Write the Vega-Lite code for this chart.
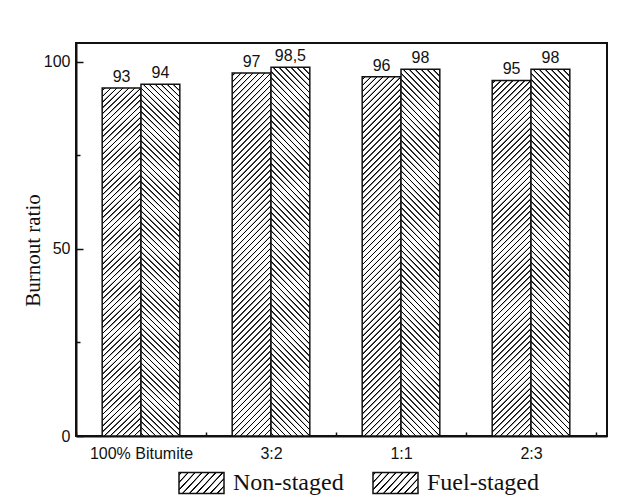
{
"$schema": "https://vega.github.io/schema/vega-lite/v6.json",
"width": 531,
"height": 393,
"autosize": "none",
"padding": {"left": 76, "top": 43, "right": 17, "bottom": 65},
"background": "white",
"params": [
{"name": "stopsB", "value": [
{"offset":0.005,"color":"#fff"},{"offset":0.0065,"color":"#000"},{"offset":0.0085,"color":"#000"},{"offset":0.01,"color":"#fff"},
{"offset":0.02,"color":"#fff"},{"offset":0.0215,"color":"#000"},{"offset":0.0235,"color":"#000"},{"offset":0.025,"color":"#fff"},
{"offset":0.035,"color":"#fff"},{"offset":0.0365,"color":"#000"},{"offset":0.0385,"color":"#000"},{"offset":0.04,"color":"#fff"},
{"offset":0.05,"color":"#fff"},{"offset":0.0515,"color":"#000"},{"offset":0.0535,"color":"#000"},{"offset":0.055,"color":"#fff"},
{"offset":0.065,"color":"#fff"},{"offset":0.0665,"color":"#000"},{"offset":0.0685,"color":"#000"},{"offset":0.07,"color":"#fff"},
{"offset":0.08,"color":"#fff"},{"offset":0.0815,"color":"#000"},{"offset":0.0835,"color":"#000"},{"offset":0.085,"color":"#fff"},
{"offset":0.095,"color":"#fff"},{"offset":0.0965,"color":"#000"},{"offset":0.0985,"color":"#000"},{"offset":0.1,"color":"#fff"},
{"offset":0.11,"color":"#fff"},{"offset":0.1115,"color":"#000"},{"offset":0.1135,"color":"#000"},{"offset":0.115,"color":"#fff"},
{"offset":0.125,"color":"#fff"},{"offset":0.1265,"color":"#000"},{"offset":0.1285,"color":"#000"},{"offset":0.13,"color":"#fff"},
{"offset":0.14,"color":"#fff"},{"offset":0.1415,"color":"#000"},{"offset":0.1435,"color":"#000"},{"offset":0.145,"color":"#fff"},
{"offset":0.155,"color":"#fff"},{"offset":0.1565,"color":"#000"},{"offset":0.1585,"color":"#000"},{"offset":0.16,"color":"#fff"},
{"offset":0.17,"color":"#fff"},{"offset":0.1715,"color":"#000"},{"offset":0.1735,"color":"#000"},{"offset":0.175,"color":"#fff"},
{"offset":0.185,"color":"#fff"},{"offset":0.1865,"color":"#000"},{"offset":0.1885,"color":"#000"},{"offset":0.19,"color":"#fff"},
{"offset":0.2,"color":"#fff"},{"offset":0.2015,"color":"#000"},{"offset":0.2035,"color":"#000"},{"offset":0.205,"color":"#fff"},
{"offset":0.215,"color":"#fff"},{"offset":0.2165,"color":"#000"},{"offset":0.2185,"color":"#000"},{"offset":0.22,"color":"#fff"},
{"offset":0.23,"color":"#fff"},{"offset":0.2315,"color":"#000"},{"offset":0.2335,"color":"#000"},{"offset":0.235,"color":"#fff"},
{"offset":0.245,"color":"#fff"},{"offset":0.2465,"color":"#000"},{"offset":0.2485,"color":"#000"},{"offset":0.25,"color":"#fff"},
{"offset":0.26,"color":"#fff"},{"offset":0.2615,"color":"#000"},{"offset":0.2635,"color":"#000"},{"offset":0.265,"color":"#fff"},
{"offset":0.275,"color":"#fff"},{"offset":0.2765,"color":"#000"},{"offset":0.2785,"color":"#000"},{"offset":0.28,"color":"#fff"},
{"offset":0.29,"color":"#fff"},{"offset":0.2915,"color":"#000"},{"offset":0.2935,"color":"#000"},{"offset":0.295,"color":"#fff"},
{"offset":0.305,"color":"#fff"},{"offset":0.3065,"color":"#000"},{"offset":0.3085,"color":"#000"},{"offset":0.31,"color":"#fff"},
{"offset":0.32,"color":"#fff"},{"offset":0.3215,"color":"#000"},{"offset":0.3235,"color":"#000"},{"offset":0.325,"color":"#fff"},
{"offset":0.335,"color":"#fff"},{"offset":0.3365,"color":"#000"},{"offset":0.3385,"color":"#000"},{"offset":0.34,"color":"#fff"},
{"offset":0.35,"color":"#fff"},{"offset":0.3515,"color":"#000"},{"offset":0.3535,"color":"#000"},{"offset":0.355,"color":"#fff"},
{"offset":0.365,"color":"#fff"},{"offset":0.3665,"color":"#000"},{"offset":0.3685,"color":"#000"},{"offset":0.37,"color":"#fff"},
{"offset":0.38,"color":"#fff"},{"offset":0.3815,"color":"#000"},{"offset":0.3835,"color":"#000"},{"offset":0.385,"color":"#fff"},
{"offset":0.395,"color":"#fff"},{"offset":0.3965,"color":"#000"},{"offset":0.3985,"color":"#000"},{"offset":0.4,"color":"#fff"},
{"offset":0.41,"color":"#fff"},{"offset":0.4115,"color":"#000"},{"offset":0.4135,"color":"#000"},{"offset":0.415,"color":"#fff"},
{"offset":0.425,"color":"#fff"},{"offset":0.4265,"color":"#000"},{"offset":0.4285,"color":"#000"},{"offset":0.43,"color":"#fff"},
{"offset":0.44,"color":"#fff"},{"offset":0.4415,"color":"#000"},{"offset":0.4435,"color":"#000"},{"offset":0.445,"color":"#fff"},
{"offset":0.455,"color":"#fff"},{"offset":0.4565,"color":"#000"},{"offset":0.4585,"color":"#000"},{"offset":0.46,"color":"#fff"},
{"offset":0.47,"color":"#fff"},{"offset":0.4715,"color":"#000"},{"offset":0.4735,"color":"#000"},{"offset":0.475,"color":"#fff"},
{"offset":0.485,"color":"#fff"},{"offset":0.4865,"color":"#000"},{"offset":0.4885,"color":"#000"},{"offset":0.49,"color":"#fff"},
{"offset":0.5,"color":"#fff"},{"offset":0.5015,"color":"#000"},{"offset":0.5035,"color":"#000"},{"offset":0.505,"color":"#fff"},
{"offset":0.515,"color":"#fff"},{"offset":0.5165,"color":"#000"},{"offset":0.5185,"color":"#000"},{"offset":0.52,"color":"#fff"},
{"offset":0.53,"color":"#fff"},{"offset":0.5315,"color":"#000"},{"offset":0.5335,"color":"#000"},{"offset":0.535,"color":"#fff"},
{"offset":0.545,"color":"#fff"},{"offset":0.5465,"color":"#000"},{"offset":0.5485,"color":"#000"},{"offset":0.55,"color":"#fff"},
{"offset":0.56,"color":"#fff"},{"offset":0.5615,"color":"#000"},{"offset":0.5635,"color":"#000"},{"offset":0.565,"color":"#fff"},
{"offset":0.575,"color":"#fff"},{"offset":0.5765,"color":"#000"},{"offset":0.5785,"color":"#000"},{"offset":0.58,"color":"#fff"},
{"offset":0.59,"color":"#fff"},{"offset":0.5915,"color":"#000"},{"offset":0.5935,"color":"#000"},{"offset":0.595,"color":"#fff"},
{"offset":0.605,"color":"#fff"},{"offset":0.6065,"color":"#000"},{"offset":0.6085,"color":"#000"},{"offset":0.61,"color":"#fff"},
{"offset":0.62,"color":"#fff"},{"offset":0.6215,"color":"#000"},{"offset":0.6235,"color":"#000"},{"offset":0.625,"color":"#fff"},
{"offset":0.635,"color":"#fff"},{"offset":0.6365,"color":"#000"},{"offset":0.6385,"color":"#000"},{"offset":0.64,"color":"#fff"},
{"offset":0.65,"color":"#fff"},{"offset":0.6515,"color":"#000"},{"offset":0.6535,"color":"#000"},{"offset":0.655,"color":"#fff"},
{"offset":0.665,"color":"#fff"},{"offset":0.6665,"color":"#000"},{"offset":0.6685,"color":"#000"},{"offset":0.67,"color":"#fff"},
{"offset":0.68,"color":"#fff"},{"offset":0.6815,"color":"#000"},{"offset":0.6835,"color":"#000"},{"offset":0.685,"color":"#fff"},
{"offset":0.695,"color":"#fff"},{"offset":0.6965,"color":"#000"},{"offset":0.6985,"color":"#000"},{"offset":0.7,"color":"#fff"},
{"offset":0.71,"color":"#fff"},{"offset":0.7115,"color":"#000"},{"offset":0.7135,"color":"#000"},{"offset":0.715,"color":"#fff"},
{"offset":0.725,"color":"#fff"},{"offset":0.7265,"color":"#000"},{"offset":0.7285,"color":"#000"},{"offset":0.73,"color":"#fff"},
{"offset":0.74,"color":"#fff"},{"offset":0.7415,"color":"#000"},{"offset":0.7435,"color":"#000"},{"offset":0.745,"color":"#fff"},
{"offset":0.755,"color":"#fff"},{"offset":0.7565,"color":"#000"},{"offset":0.7585,"color":"#000"},{"offset":0.76,"color":"#fff"},
{"offset":0.77,"color":"#fff"},{"offset":0.7715,"color":"#000"},{"offset":0.7735,"color":"#000"},{"offset":0.775,"color":"#fff"},
{"offset":0.785,"color":"#fff"},{"offset":0.7865,"color":"#000"},{"offset":0.7885,"color":"#000"},{"offset":0.79,"color":"#fff"},
{"offset":0.8,"color":"#fff"},{"offset":0.8015,"color":"#000"},{"offset":0.8035,"color":"#000"},{"offset":0.805,"color":"#fff"},
{"offset":0.815,"color":"#fff"},{"offset":0.8165,"color":"#000"},{"offset":0.8185,"color":"#000"},{"offset":0.82,"color":"#fff"},
{"offset":0.83,"color":"#fff"},{"offset":0.8315,"color":"#000"},{"offset":0.8335,"color":"#000"},{"offset":0.835,"color":"#fff"},
{"offset":0.845,"color":"#fff"},{"offset":0.8465,"color":"#000"},{"offset":0.8485,"color":"#000"},{"offset":0.85,"color":"#fff"},
{"offset":0.86,"color":"#fff"},{"offset":0.8615,"color":"#000"},{"offset":0.8635,"color":"#000"},{"offset":0.865,"color":"#fff"},
{"offset":0.875,"color":"#fff"},{"offset":0.8765,"color":"#000"},{"offset":0.8785,"color":"#000"},{"offset":0.88,"color":"#fff"},
{"offset":0.89,"color":"#fff"},{"offset":0.8915,"color":"#000"},{"offset":0.8935,"color":"#000"},{"offset":0.895,"color":"#fff"},
{"offset":0.905,"color":"#fff"},{"offset":0.9065,"color":"#000"},{"offset":0.9085,"color":"#000"},{"offset":0.91,"color":"#fff"},
{"offset":0.92,"color":"#fff"},{"offset":0.9215,"color":"#000"},{"offset":0.9235,"color":"#000"},{"offset":0.925,"color":"#fff"},
{"offset":0.935,"color":"#fff"},{"offset":0.9365,"color":"#000"},{"offset":0.9385,"color":"#000"},{"offset":0.94,"color":"#fff"},
{"offset":0.95,"color":"#fff"},{"offset":0.9515,"color":"#000"},{"offset":0.9535,"color":"#000"},{"offset":0.955,"color":"#fff"},
{"offset":0.965,"color":"#fff"},{"offset":0.9665,"color":"#000"},{"offset":0.9685,"color":"#000"},{"offset":0.97,"color":"#fff"},
{"offset":0.98,"color":"#fff"},{"offset":0.9815,"color":"#000"},{"offset":0.9835,"color":"#000"},{"offset":0.985,"color":"#fff"},
{"offset":0.995,"color":"#fff"},{"offset":0.9965,"color":"#000"},{"offset":0.9985,"color":"#000"},{"offset":1,"color":"#fff"}
]},
{"name": "gNon", "expr": "{gradient: 'linear', x1: 0, y1: 0, x2: 0.11832, y2: 1.09524, stops: stopsB}"},
{"name": "gFuel", "expr": "{gradient: 'linear', x1: 0, y1: 1, x2: 0.11832, y2: -0.09524, stops: stopsB}"},
{"name": "lgNon", "expr": "{gradient: 'linear', x1: 0, y1: 0, x2: 7.2993, y2: 3.4464, stops: stopsB}"},
{"name": "lgFuel", "expr": "{gradient: 'linear', x1: 0, y1: 1, x2: 7.2993, y2: -2.4464, stops: stopsB}"}
],
"data": {"values": [
{"Blend": "100% Bitumite", "Type": "Non-staged", "value": 93, "label": "93"},
{"Blend": "100% Bitumite", "Type": "Fuel-staged", "value": 94, "label": "94"},
{"Blend": "3:2", "Type": "Non-staged", "value": 97, "label": "97"},
{"Blend": "3:2", "Type": "Fuel-staged", "value": 98.5, "label": "98,5"},
{"Blend": "1:1", "Type": "Non-staged", "value": 96, "label": "96"},
{"Blend": "1:1", "Type": "Fuel-staged", "value": 98, "label": "98"},
{"Blend": "2:3", "Type": "Non-staged", "value": 95, "label": "95"},
{"Blend": "2:3", "Type": "Fuel-staged", "value": 98, "label": "98"}
]},
"encoding": {
"x": {"field": "Blend", "type": "nominal", "sort": ["100% Bitumite", "3:2", "1:1", "2:3"],
"scale": {"paddingInner": 0, "paddingOuter": 0.0423, "align": 0},
"axis": {"title": null, "labelAngle": 0, "tickBand": "extent", "tickSize": -4, "labelPadding": 13,
"labelFont": "Liberation Sans", "labelFontSize": 16, "labelColor": "#111", "tickColor": "#111", "tickWidth": 1.5,
"domainColor": "#111", "domainWidth": 2}},
"xOffset": {"field": "Type", "type": "nominal", "sort": ["Non-staged", "Fuel-staged"], "scale": {"paddingInner": 0, "paddingOuter": 0.675}}
},
"layer": [
{"mark": {"type": "bar", "fill": {"expr": "datum.Type === 'Non-staged' ? gNon : gFuel"}, "fillOpacity": 1, "strokeWidth": 1.5},
"encoding": {
"y": {"field": "value", "type": "quantitative", "scale": {"domain": [0, 105], "nice": false},
"axis": {"orient": "left", "values": [0, 50, 100], "grid": false, "tickSize": -7, "labelPadding": 13, "tickWidth": 1.5, "tickColor": "#111",
"domainColor": "#111", "domainWidth": 2, "labelFont": "Liberation Sans", "labelFontSize": 16, "labelColor": "#111",
"title": "Burnout ratio", "titleFont": "Liberation Serif", "titleFontSize": 21, "titleFontWeight": "normal", "titleColor": "#111",
"titleX": -37, "titleY": 207, "titleBaseline": "alphabetic", "titleAngle": -90}},
"stroke": {"field": "Type", "type": "nominal", "sort": ["Non-staged", "Fuel-staged"], "scale": {"range": ["#111", "#111"]},
"legend": {"title": null, "orient": "none", "legendX": 102, "legendY": 416, "direction": "horizontal", "padding": 0,
"columnPadding": 26, "labelOffset": 8, "symbolType": "M-1,-0.4667H1V0.4667H-1Z", "symbolSize": 2025, "symbolStrokeWidth": 1.5,
"labelFont": "Liberation Serif", "labelFontSize": 24, "labelColor": "#111",
"encode": {"symbols": {"fill": {"condition": {"test": "datum.value === 'Non-staged'", "value": {"expr": "lgNon"}}, "value": {"expr": "lgFuel"}}, "fillOpacity": {"value": 1}}}}}
}},
{"mark": {"type": "text", "dy": -6, "baseline": "alphabetic", "font": "Liberation Sans", "fontSize": 16, "color": "#111"},
"encoding": {
"y": {"field": "value", "type": "quantitative",
"axis": {"orient": "left", "values": [25, 75], "labels": false, "domain": false, "grid": false, "tickSize": -4, "tickWidth": 1.5, "tickColor": "#111", "title": null}},
"text": {"field": "label"}
}}
],
"resolve": {"axis": {"y": "independent"}},
"config": {"view": {"stroke": "#111", "strokeWidth": 2}}
}
